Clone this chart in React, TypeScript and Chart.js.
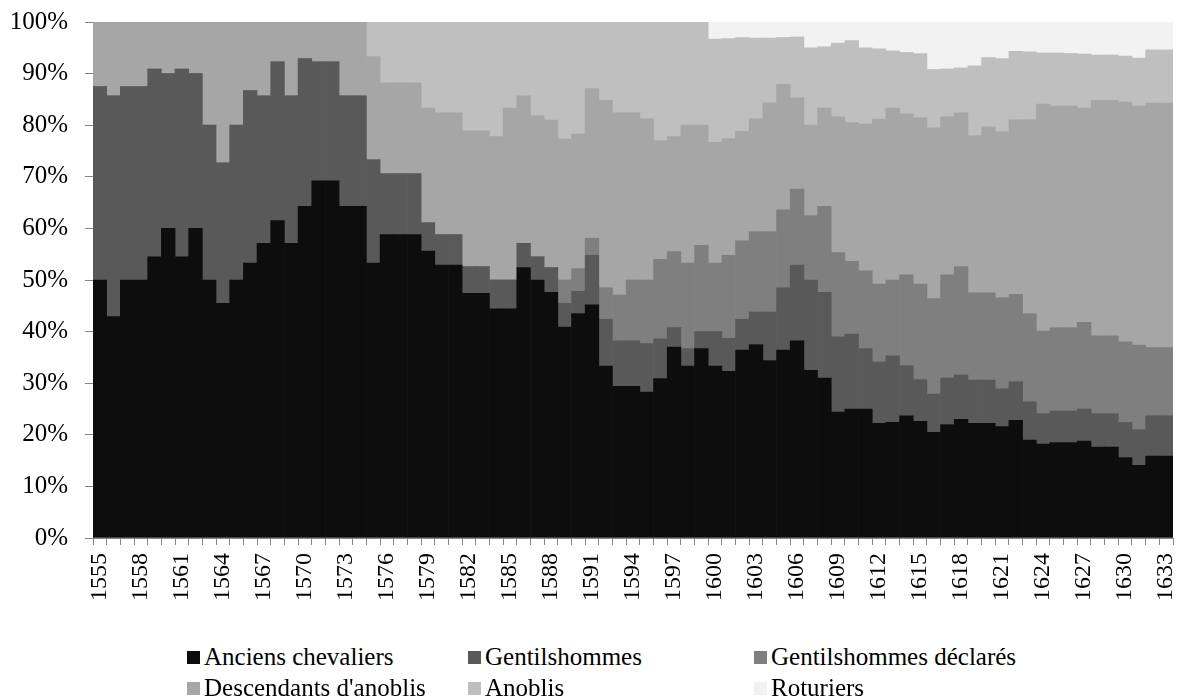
import React, { useEffect, useRef } from 'react';
import { Chart, registerables } from 'chart.js';

Chart.register(...registerables);

const years = [
  '1555','1556','1557','1558','1559','1560','1561','1562','1563','1564',
  '1565','1566','1567','1568','1569','1570','1571','1572','1573','1574',
  '1575','1576','1577','1578','1579','1580','1581','1582','1583','1584',
  '1585','1586','1587','1588','1589','1590','1591','1592','1593','1594',
  '1595','1596','1597','1598','1599','1600','1601','1602','1603','1604',
  '1605','1606','1607','1608','1609','1610','1611','1612','1613','1614',
  '1615','1616','1617','1618','1619','1620','1621','1622','1623','1624',
  '1625','1626','1627','1628','1629','1630','1631','1632','1633'
];

const anciensChevaliers = [
  50, 42.9, 50, 50, 54.5, 60, 54.5, 60, 50, 45.5,
  50, 53.3, 57.1, 61.5, 57.1, 64.3, 69.2, 69.2, 64.3, 64.3,
  53.3, 58.8, 58.8, 58.8, 55.6, 52.9, 52.9, 47.4, 47.4, 44.4,
  44.4, 52.4, 50, 47.6, 40.9, 43.5, 45.2, 33.3, 29.4, 29.4,
  28.3, 30.9, 37.0, 33.3, 36.7, 33.3, 32.3, 36.4, 37.5, 34.4,
  36.4, 38.2, 32.5, 31.0, 24.4, 25.0, 25.0, 22.2, 22.4, 23.7,
  22.6, 20.5, 22.0, 23.0, 22.2, 22.2, 21.6, 22.8, 19.0, 18.2,
  18.5, 18.5, 18.8, 17.6, 17.6, 15.6, 14.1, 15.9, 15.9
];

const gentilshommes = [
  37.5, 42.8, 37.5, 37.5, 36.4, 30, 36.4, 30, 30, 27.2,
  30, 33.4, 28.6, 30.8, 28.6, 28.6, 23.1, 23.1, 21.4, 21.4,
  20.0, 11.8, 11.8, 11.8, 5.5, 5.9, 5.9, 5.2, 5.2, 5.6,
  5.6, 4.7, 4.5, 4.8, 4.6, 4.3, 9.6, 9.1, 8.8, 8.8,
  9.4, 7.7, 3.8, 3.4, 3.3, 6.7, 6.4, 6.0, 6.3, 9.4,
  12.1, 14.7, 17.5, 16.6, 14.6, 14.5, 11.7, 11.9, 12.9, 9.7,
  8.1, 7.4, 9.0, 8.6, 8.4, 8.4, 7.3, 7.5, 7.4, 5.9,
  6.1, 6.1, 6.2, 6.5, 6.5, 6.8, 6.9, 7.8, 7.8
];

const gentilshommesDeclares = [
  0, 0, 0, 0, 0, 0, 0, 0, 0, 0,
  0, 0, 0, 0, 0, 0, 0, 0, 0, 0,
  0, 0, 0, 0, 0, 0, 0, 0, 0, 0,
  0, 0, 0, 0, 4.5, 4.4, 3.3, 6.1, 8.9, 11.8,
  12.3, 15.4, 14.7, 16.6, 16.7, 13.3, 16.1, 15.2, 15.6, 15.6,
  15.1, 14.7, 12.5, 16.7, 16.3, 14.1, 15.1, 15.1, 14.7, 17.6,
  18.5, 18.5, 20.0, 21.0, 16.9, 16.9, 17.7, 16.9, 17.1, 16.0,
  16.2, 16.2, 16.8, 15.1, 15.1, 15.6, 16.4, 13.2, 13.2
];

const descendantsAnoblis = [
  12.5, 14.3, 12.5, 12.5, 9.1, 10, 9.1, 10, 20, 27.3,
  20, 13.3, 14.3, 7.7, 14.3, 7.1, 7.7, 7.7, 14.3, 14.3,
  20.0, 17.6, 17.6, 17.6, 22.2, 23.6, 23.6, 26.3, 26.3, 27.8,
  33.3, 28.6, 27.3, 28.6, 27.3, 26.1, 29.0, 36.3, 35.3, 32.4,
  31.3, 23.0, 22.3, 26.7, 23.3, 23.4, 22.6, 21.2, 21.9, 25.0,
  24.3, 17.7, 17.5, 19.0, 26.3, 26.9, 28.4, 32.0, 33.3, 31.2,
  32.3, 33.1, 30.6, 29.8, 30.5, 32.2, 32.1, 33.9, 37.6, 44.0,
  42.9, 42.9, 41.5, 45.6, 45.6, 46.5, 46.3, 47.4, 47.4
];

const anoblis = [
  0, 0, 0, 0, 0, 0, 0, 0, 0, 0,
  0, 0, 0, 0, 0, 0, 0, 0, 0, 0,
  6.7, 11.8, 11.8, 11.8, 16.7, 17.6, 17.6, 21.1, 21.1, 22.2,
  16.7, 14.3, 18.2, 19.0, 22.7, 21.7, 12.9, 15.2, 17.6, 17.6,
  18.7, 23.0, 22.2, 20.0, 20.0, 20.0, 19.4, 18.2, 15.6, 12.5,
  9.1, 11.8, 15.0, 11.9, 14.3, 15.9, 14.8, 13.6, 11.1, 11.9,
  12.4, 11.3, 9.3, 8.7, 13.5, 13.4, 14.2, 13.2, 13.1, 9.9,
  10.3, 10.2, 10.5, 8.8, 8.8, 8.9, 9.3, 10.3, 10.3
];

const roturiers = [
  0, 0, 0, 0, 0, 0, 0, 0, 0, 0,
  0, 0, 0, 0, 0, 0, 0, 0, 0, 0,
  0, 0, 0, 0, 0, 0, 0, 0, 0, 0,
  0, 0, 0, 0, 0, 0, 0, 0, 0, 0,
  0, 0, 0, 0, 0, 3.3, 3.2, 3.0, 3.1, 3.1,
  3.0, 2.9, 5.0, 4.8, 4.1, 3.6, 5.0, 5.2, 5.6, 5.9,
  6.1, 9.2, 9.1, 8.9, 8.5, 6.9, 7.1, 5.7, 5.8, 6.0,
  6.0, 6.1, 6.2, 6.4, 6.4, 6.6, 7.0, 5.4, 5.4
];

const seriesNames = [
  'Anciens chevaliers',
  'Gentilshommes',
  'Gentilshommes déclarés',
  "Descendants d'anoblis",
  'Anoblis',
  'Roturiers'
];
const seriesColors = ['#0d0d0d', '#595959', '#7f7f7f', '#a6a6a6', '#bfbfbf', '#f2f2f2'];
const seriesData = [anciensChevaliers, gentilshommes, gentilshommesDeclares, descendantsAnoblis, anoblis, roturiers];

const FONT = '"Liberation Serif", "Times New Roman", serif';
const AXIS = '#868686';

const legendPos = [
  { left: 187, top: 657 },
  { left: 468, top: 657 },
  { left: 754, top: 657 },
  { left: 187, top: 688 },
  { left: 468, top: 688 },
  { left: 754, top: 688 }
];

export default function App() {
  const ref = useRef<HTMLCanvasElement>(null);

  useEffect(() => {
    if (!ref.current) return;
    const chart = new Chart(ref.current, {
      type: 'bar',
      data: {
        labels: years,
        datasets: seriesNames.map((name, i) => ({
          label: name,
          data: seriesData[i],
          backgroundColor: seriesColors[i],
          borderWidth: 0,
          barPercentage: 1,
          categoryPercentage: 1
        }))
      },
      options: {
        animation: false,
        responsive: false,
        maintainAspectRatio: false,
        layout: { padding: { top: 22, right: 7, left: 0, bottom: 0 } },
        plugins: {
          legend: { display: false },
          tooltip: { enabled: false }
        },
        scales: {
          x: {
            stacked: true,
            grid: { display: true, drawOnChartArea: false, offset: true, tickLength: 7, color: AXIS },
            border: { color: AXIS },
            ticks: {
              autoSkip: false,
              maxRotation: 90,
              minRotation: 90,
              padding: 8,
              color: '#000',
              font: { family: FONT, size: 24 },
              callback: (_v: any, i: number) => (i % 3 === 0 ? years[i] : '')
            },
            afterFit: (s: any) => {
              s.height = 82;
              s.paddingLeft = 0;
              s.paddingRight = 0;
            }
          },
          y: {
            stacked: true,
            min: 0,
            max: 100,
            grid: { display: true, drawOnChartArea: false, tickLength: 8, color: AXIS },
            border: { color: AXIS },
            ticks: {
              stepSize: 10,
              padding: 17,
              color: '#000',
              font: { family: FONT, size: 25 },
              callback: (v: any) => v + '%'
            },
            afterFit: (s: any) => {
              s.width = 93;
              s.paddingTop = 0;
              s.paddingBottom = 0;
            }
          }
        }
      }
    });
    return () => chart.destroy();
  }, []);

  return (
    <div style={{ position: 'fixed', left: 0, top: 0, width: 1180, height: 699, background: '#fff' }}>
      <canvas ref={ref} width={1180} height={620} style={{ position: 'absolute', left: 0, top: 0 }} />
      {seriesNames.map((name, i) => (
        <div
          key={name}
          style={{
            position: 'absolute',
            left: legendPos[i].left,
            top: legendPos[i].top - 15,
            height: 30,
            display: 'flex',
            alignItems: 'center',
            fontFamily: FONT,
            fontSize: 25,
            color: '#000',
            whiteSpace: 'nowrap'
          }}
        >
          <span style={{ display: 'inline-block', width: 13, height: 13, background: seriesColors[i], marginRight: 4 }} />
          <span>{name}</span>
        </div>
      ))}
    </div>
  );
}
